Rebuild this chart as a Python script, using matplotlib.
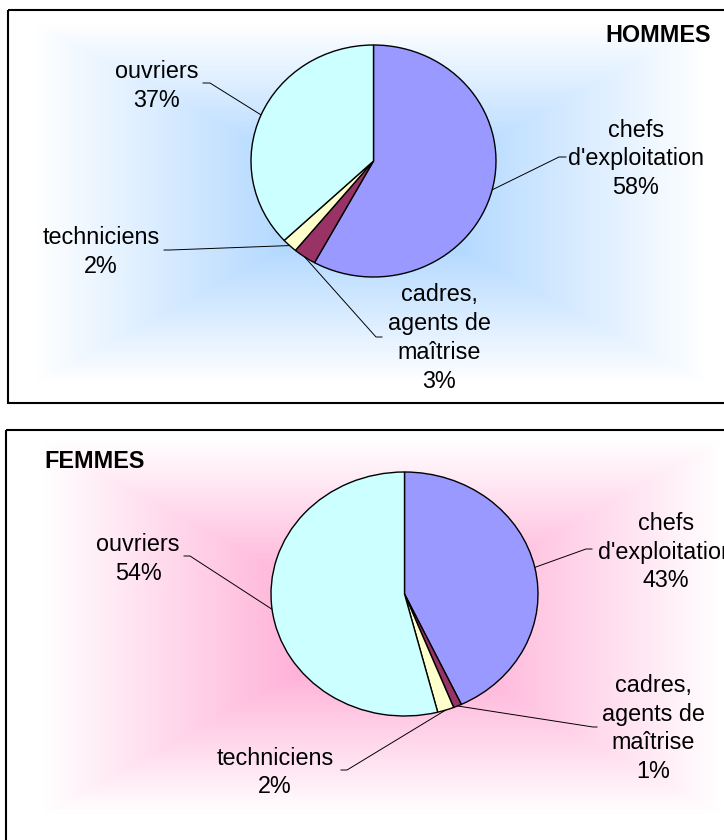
import numpy as np
import matplotlib.pyplot as plt
import matplotlib.colors as mcolors
from matplotlib.patches import Rectangle

plt.rcParams['font.family'] = ['Liberation Sans', 'DejaVu Sans']

# données
categories = ["chefs\nd'exploitation", "cadres,\nagents de\nmaîtrise", "techniciens", "ouvriers"]
hommes = [58, 3, 2, 37]
femmes = [43, 1, 2, 54]
colors = ['#9999FF', '#993366', '#FFFFCC', '#CCFFFF']

W, H = 724, 840
fig = plt.figure(figsize=(W / 100, H / 100), dpi=100)
bg = fig.add_axes([0, 0, 1, 1])
bg.axis('off')

FS = 16.8
LS = 1.32


def gradient(x0, x1, y0, y1, color):
    # dégradé rectangulaire "depuis le centre"
    xs = np.linspace(-1, 1, 300)
    ys = np.linspace(-1, 1, 200)
    X, Y = np.meshgrid(xs, ys)
    t = np.maximum(np.abs(X), np.abs(Y))[..., None]
    c = np.array(mcolors.to_rgb(color))[None, None, :]
    img = c * (1 - t) + t
    bg.imshow(img, extent=(x0, x1, y1, y0), aspect='auto',
              interpolation='bilinear', zorder=0)


def panel(values, title, box, grad, gcolor, center, radii, title_xy, title_ha,
          label_xy, leaders):
    gradient(*grad, gcolor)
    bg.add_patch(Rectangle((box[0], box[1]), box[2], box[3], fill=False,
                           edgecolor='black', lw=1.5, zorder=3))
    bg.text(title_xy[0], title_xy[1], title, ha=title_ha, va='center',
            fontsize=FS, fontweight='bold', zorder=4)

    cx, cy = center
    rx, ry = radii
    k = 1.05
    px = fig.add_axes([(cx - k * rx) / W, 1 - (cy + k * ry) / H,
                       2 * k * rx / W, 2 * k * ry / H])
    wedges, _ = px.pie(values, colors=colors, startangle=90, counterclock=False,
                       wedgeprops=dict(edgecolor='black', linewidth=1.0))
    px.set_aspect('auto')
    px.set_xlim(-k, k)
    px.set_ylim(-k, k)
    px.axis('off')

    for w, name, v, (lx, ly), (ex, ey, sx) in zip(wedges, categories, values,
                                                   label_xy, leaders):
        a = np.deg2rad((w.theta1 + w.theta2) / 2)
        ax_ = cx + rx * np.cos(a)
        ay_ = cy - ry * np.sin(a)
        bg.plot([ax_, ex, sx], [ay_, ey, ey], color='black', lw=0.7, zorder=2)
        bg.text(lx, ly, f"{name}\n{v}%", ha='center', va='center',
                fontsize=FS, linespacing=LS, zorder=4)


panel(hommes, 'HOMMES', (8, 10, 740, 393), (35, 706, 23, 383), '#99CCFF',
      (373.5, 161), (122.5, 116), (711, 35), 'right',
      [(636, 159), (439, 338), (101, 252), (157, 86)],
      [(559, 157, 566), (376, 337, 382), (170, 250, 164), (210, 83, 203)])

panel(femmes, 'FEMMES', (6, 430, 740, 430), (42, 722, 440, 815), '#FF99CC',
      (404.5, 594), (133.5, 122), (44, 462), 'left',
      [(666, 552), (653, 728.5), (275, 772.5), (138, 559)],
      [(586, 549, 592), (593, 727, 597), (347, 770, 341), (190, 556, 184)])

bg.set_xlim(0, W)
bg.set_ylim(H, 0)

fig.savefig('out.png', dpi=100)
